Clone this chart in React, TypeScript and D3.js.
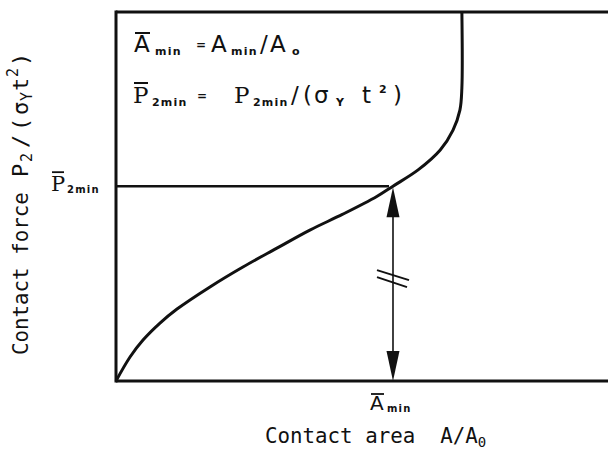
import React from "react";
import * as d3 from "d3";

// Normalised contact area A/A0 and contact force P2/(σY t²) along the curve
const areaValues = [0, 0.0285, 0.0549, 0.0894, 0.124, 0.191, 0.258, 0.327, 0.394, 0.461, 0.53, 0.563, 0.614, 0.659, 0.685, 0.699, 0.703, 0.703];
const forceValues = [0, 0.065, 0.111, 0.157, 0.195, 0.255, 0.309, 0.36, 0.409, 0.452, 0.5, 0.528, 0.572, 0.626, 0.68, 0.734, 0.794, 1.0];

// Marked minimum point
const aMinValue = 0.563;
const p2MinValue = 0.528;

const W = 608;
const H = 450;
const left = 116;
const top = 12;
const bottom = 381;

const mono = "'DejaVu Sans Mono', 'Liberation Mono', monospace";
const sans = "'DejaVu Sans', 'Liberation Sans', sans-serif";
const serif = "'DejaVu Serif', 'Liberation Serif', serif";
const ink = "#111";

export default function App() {
  const x = d3.scaleLinear().domain([0, 1]).range([left, W]);
  const y = d3.scaleLinear().domain([0, 1]).range([bottom, top]);

  const pts: [number, number][] = areaValues.map((a, i) => [a, forceValues[i]]);
  const line = d3
    .line<[number, number]>()
    .x((d) => x(d[0]))
    .y((d) => y(d[1]))
    .curve(d3.curveCatmullRom.alpha(0.5));

  const ax = x(aMinValue);
  const py = y(p2MinValue);
  const arrowTop = py + 1;
  const arrowBot = bottom;
  const head = 30;
  const hw = 6.5;
  const midY = (arrowTop + arrowBot) / 2;

  const sub = { fontFamily: sans, fontSize: 11, fontWeight: 700, letterSpacing: 1.2 } as const;
  const big = { fontFamily: sans, fontSize: 23 } as const;
  const bigSerif = { fontFamily: serif, fontSize: 23 } as const;

  return (
    <svg width={W} height={H} style={{ position: "absolute", left: 0, top: 0, background: "#fff" }}>
      {/* frame */}
      <line x1={left} y1={top} x2={W} y2={top} stroke={ink} strokeWidth={3} />
      <line x1={left} y1={top - 1.5} x2={left} y2={bottom + 1.5} stroke={ink} strokeWidth={3} />
      <line x1={left} y1={bottom} x2={W} y2={bottom} stroke={ink} strokeWidth={3} />

      {/* P2min level */}
      <line x1={left} y1={py} x2={ax - 4} y2={py} stroke={ink} strokeWidth={2.5} />

      {/* curve */}
      <path d={line(pts) || ""} fill="none" stroke={ink} strokeWidth={3} />

      {/* double-headed arrow */}
      <line x1={ax} y1={arrowTop + head - 2} x2={ax} y2={arrowBot - head + 2} stroke={ink} strokeWidth={1.6} />
      <path d={`M${ax},${arrowTop} L${ax - hw},${arrowTop + head} L${ax + hw},${arrowTop + head} Z`} fill={ink} />
      <path d={`M${ax},${arrowBot} L${ax - hw},${arrowBot - head} L${ax + hw},${arrowBot - head} Z`} fill={ink} />
      <line x1={ax - 16} y1={midY - 14} x2={ax + 16} y2={midY - 4} stroke={ink} strokeWidth={2} />
      <line x1={ax - 16} y1={midY - 7} x2={ax + 14} y2={midY + 3} stroke={ink} strokeWidth={2} />

      {/* definitions */}
      <g fill={ink}>
        <text x={134} y={52} {...big}>A</text>
        <line x1={135} y1={33} x2={150} y2={33} stroke={ink} strokeWidth={2} />
        <text x={155} y={55} {...sub}>min</text>
        <text x={196} y={49} fontFamily={sans} fontSize={12} fontWeight={700}>=</text>
        <text x={211} y={52} {...big}>A</text>
        <text x={231} y={55} {...sub}>min</text>
        <text x={260} y={52} {...big}>/</text>
        <text x={270} y={52} {...big}>A</text>
        <text x={292} y={55} {...sub}>o</text>

        <text x={133} y={103} {...bigSerif}>P</text>
        <line x1={134} y1={83} x2={148} y2={83} stroke={ink} strokeWidth={2} />
        <text x={152} y={106} {...sub}>2min</text>
        <text x={197} y={100} fontFamily={sans} fontSize={12} fontWeight={700}>=</text>
        <text x={234} y={103} {...bigSerif}>P</text>
        <text x={253} y={106} {...sub}>2min</text>
        <text x={291} y={103} {...big}>/</text>
        <text x={303} y={103} {...big}>(</text>
        <text x={314} y={103} {...big}>σ</text>
        <text x={336} y={106} {...sub}>Y</text>
        <text x={362} y={103} {...big}>t</text>
        <text x={379} y={93} fontFamily={sans} fontSize={11} fontWeight={700}>2</text>
        <text x={393} y={103} {...big}>)</text>
      </g>

      {/* y-side level label */}
      <g fill={ink}>
        <text x={51} y={py + 5} fontFamily={serif} fontSize={21}>P</text>
        <line x1={52} y1={py - 14} x2={64} y2={py - 14} stroke={ink} strokeWidth={1.8} />
        <text x={67} y={py + 7} {...sub} fontSize={10}>2min</text>
      </g>

      {/* x-side level label */}
      <g fill={ink}>
        <text x={ax - 23} y={410} fontFamily={sans} fontSize={20}>A</text>
        <line x1={ax - 22} y1={394} x2={ax - 9} y2={394} stroke={ink} strokeWidth={1.8} />
        <text x={ax - 6} y={412} {...sub} fontSize={10}>min</text>
      </g>

      {/* axis titles */}
      <text x={265} y={443} fontFamily={mono} fontSize={20.8} fill={ink}>
        Contact area{"\u00a0\u00a0"}A/A<tspan fontSize={14} dy={4}>0</tspan>
      </text>
      <g transform="translate(28, 355) rotate(-90)" fontFamily={mono} fill={ink}>
        <text x={0} y={0} fontSize={20.8}>Contact force</text>
        <text x={178} y={0} fontSize={22}>P</text>
        <text x={193} y={4} fontSize={15}>2</text>
        <text x={207} y={0} fontSize={22}>/</text>
        <text x={224} y={0} fontSize={22}>(</text>
        <text x={240} y={0} fontSize={22}>σ</text>
        <text x={254} y={4} fontSize={15}>Y</text>
        <text x={264} y={0} fontSize={22}>t</text>
        <text x={278} y={-10} fontSize={15}>2</text>
        <text x={289} y={0} fontSize={22}>)</text>
      </g>
    </svg>
  );
}
